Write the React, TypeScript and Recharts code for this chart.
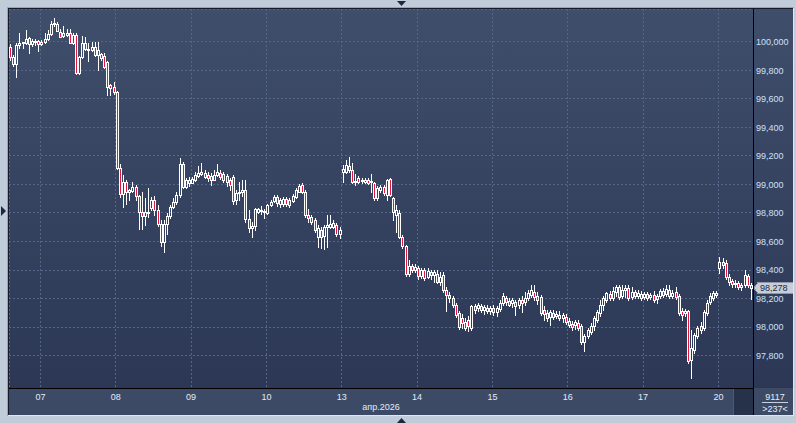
import React from 'react';
import { ComposedChart, Bar, XAxis, YAxis, CartesianGrid, ReferenceLine } from 'recharts';

const opens = [
  99961, 99891, 99842, 99977, 99989, 99991, 100024, 99986, 100005, 100003,
  99986, 99998, 100017, 100054, 100124, 100124, 100070, 100040, 100050, 100059,
  99993, 100047, 99781, 99891, 99989, 99947, 99942, 99961, 99907, 99914,
  99900, 99860, 99697, 99681, 99646, 99114, 98934, 99020, 98950, 98955,
  98981, 98920, 98810, 98780, 98810, 98836, 98892, 98822, 98724, 98598,
  98724, 98780, 98843, 98878, 98927, 99144, 98985, 99032, 99011, 99032,
  99060, 99074, 99081, 99067, 99060, 99032, 99067, 99081, 99074, 99060,
  99032, 99055, 98892, 98941, 98948, 98962, 98759, 98696, 98710, 98810,
  98822, 98815, 98801, 98857, 98887, 98915, 98864, 98864, 98899, 98892,
  98887, 98915, 98950, 98997, 98950, 98787, 98771, 98752, 98635, 98682,
  98640, 98705, 98705, 98705, 98717, 98654, 99088, 99088, 99130, 99102,
  99020, 99044, 99027, 99020, 99032, 99018, 99009, 98904, 98962, 98985,
  98927, 99037, 98904, 98787, 98801, 98635, 98570, 98374, 98430, 98402,
  98416, 98360, 98402, 98353, 98388, 98367, 98374, 98318, 98367, 98262,
  98227, 98206, 98157, 98101, 98066, 98038, 98052, 97994, 98145, 98136,
  98150, 98122, 98136, 98115, 98136, 98108, 98129, 98171, 98206, 98185,
  98171, 98178, 98157, 98192, 98178, 98206, 98227, 98248, 98220, 98213,
  98122, 98101, 98073, 98101, 98080, 98087, 98066, 98073, 98045, 98024,
  98017, 98031, 98010, 97898, 97940, 97968, 98010, 98052, 98101, 98157,
  98192, 98234, 98206, 98248, 98283, 98220, 98262, 98276, 98213, 98248,
  98220, 98234, 98213, 98234, 98213, 98227, 98199, 98220, 98255, 98234,
  98262, 98220, 98248, 98220, 98115, 98101, 98115, 97772, 97842, 97940,
  97982, 97996, 98101, 98178, 98206, 98227, 98416, 98458, 98451, 98353,
  98325, 98304, 98311, 98283, 98297, 98360, 98297,
];

const highs = [
  99984, 99907, 99991, 100059, 100000, 100082, 100033, 100019, 100019, 100012,
  100012, 100059, 100082, 100147, 100164, 100135, 100089, 100110, 100087, 100087,
  100061, 100061, 99900, 100040, 100035, 99989, 100000, 100000, 100000, 99921,
  99923, 99865, 99704, 99720, 99655, 99144, 99067, 99032, 98969, 99020,
  98997, 98927, 98950, 98904, 98974, 98913, 98920, 98857, 98752, 98752,
  98801, 98857, 98906, 98948, 99186, 99158, 99046, 99053, 99053, 99090,
  99132, 99153, 99102, 99088, 99081, 99102, 99144, 99102, 99088, 99074,
  99046, 99067, 98962, 99018, 99032, 99032, 98822, 98738, 98836, 98836,
  98850, 98829, 98864, 98892, 98927, 98927, 98906, 98913, 98913, 98906,
  98934, 98976, 99004, 99011, 98962, 98829, 98787, 98766, 98717, 98703,
  98717, 98787, 98787, 98752, 98731, 98703, 99137, 99172, 99195, 99149,
  99074, 99060, 99044, 99046, 99046, 99074, 99018, 98990, 98997, 98997,
  99039, 99046, 98913, 98857, 98822, 98647, 98577, 98472, 98444, 98444,
  98430, 98416, 98416, 98416, 98402, 98402, 98402, 98388, 98388, 98283,
  98248, 98220, 98171, 98115, 98094, 98066, 98080, 98157, 98164, 98171,
  98164, 98157, 98157, 98150, 98157, 98150, 98192, 98241, 98220, 98206,
  98206, 98192, 98206, 98220, 98248, 98262, 98297, 98297, 98248, 98227,
  98150, 98122, 98122, 98122, 98115, 98115, 98101, 98094, 98066, 98045,
  98052, 98052, 98024, 97954, 97996, 98031, 98080, 98122, 98192, 98220,
  98248, 98255, 98283, 98297, 98297, 98297, 98297, 98297, 98283, 98262,
  98262, 98255, 98248, 98248, 98241, 98255, 98234, 98269, 98276, 98297,
  98297, 98262, 98283, 98234, 98136, 98129, 98122, 97982, 97961, 98010,
  98038, 98122, 98192, 98241, 98255, 98255, 98493, 98486, 98472, 98374,
  98339, 98332, 98325, 98311, 98402, 98374, 98311,
];

const lows = [
  99872, 99830, 99755, 99956, 99954, 99984, 99919, 99970, 99977, 99937,
  99977, 99991, 100012, 100047, 100110, 100075, 100033, 100033, 100040, 99989,
  99984, 99774, 99774, 99886, 99942, 99867, 99935, 99900, 99802, 99872,
  99819, 99627, 99627, 99632, 99109, 98913, 98843, 98864, 98892, 98948,
  98892, 98687, 98687, 98717, 98775, 98822, 98787, 98710, 98570, 98526,
  98654, 98766, 98836, 98864, 98913, 98976, 98976, 98990, 99011, 99025,
  99053, 99067, 99046, 99025, 98997, 99032, 99060, 99039, 99018, 98990,
  98962, 98864, 98864, 98892, 98920, 98738, 98668, 98633, 98682, 98801,
  98794, 98766, 98794, 98850, 98878, 98850, 98843, 98850, 98850, 98843,
  98878, 98906, 98948, 98941, 98773, 98738, 98724, 98668, 98565, 98554,
  98549, 98561, 98696, 98696, 98640, 98626, 99020, 99081, 99088, 99011,
  98997, 99011, 99009, 99011, 99004, 98950, 98892, 98892, 98948, 98927,
  98892, 98920, 98752, 98670, 98626, 98556, 98360, 98360, 98388, 98388,
  98339, 98346, 98332, 98346, 98339, 98318, 98311, 98297, 98248, 98110,
  98178, 98143, 98073, 97989, 97996, 97982, 97970, 97982, 98101, 98115,
  98108, 98094, 98101, 98094, 98087, 98080, 98115, 98157, 98157, 98150,
  98143, 98087, 98136, 98108, 98157, 98192, 98213, 98192, 98164, 98087,
  98052, 98045, 98017, 98059, 98066, 98052, 98038, 98024, 98003, 97982,
  97989, 97982, 97884, 97830, 97926, 97954, 97982, 98038, 98080, 98122,
  98178, 98192, 98192, 98220, 98199, 98206, 98213, 98192, 98199, 98206,
  98206, 98192, 98199, 98192, 98199, 98178, 98171, 98206, 98213, 98220,
  98206, 98206, 98199, 98087, 98052, 98080, 97751, 97644, 97821, 97926,
  97961, 97982, 98087, 98164, 98192, 98213, 98381, 98416, 98339, 98297,
  98283, 98283, 98269, 98262, 98283, 98283, 98197,
];

const closes = [
  99891, 99842, 99977, 99989, 99995, 100017, 99984, 100007, 99998, 99986,
  100000, 100017, 100054, 100124, 100131, 100077, 100035, 100063, 100059, 99993,
  100047, 99783, 99891, 99989, 99947, 99945, 99961, 99907, 99942, 99884,
  99825, 99681, 99676, 99646, 99114, 98934, 99020, 98950, 98962, 98981,
  98920, 98810, 98780, 98810, 98808, 98892, 98822, 98724, 98598, 98724,
  98780, 98843, 98878, 98927, 99144, 98985, 99032, 99011, 99039, 99067,
  99081, 99090, 99053, 99046, 99032, 99067, 99088, 99053, 99032, 99018,
  98997, 98887, 98941, 98948, 98962, 98759, 98696, 98710, 98829, 98827,
  98815, 98808, 98857, 98880, 98915, 98869, 98892, 98899, 98864, 98857,
  98920, 98962, 98990, 98950, 98787, 98764, 98740, 98682, 98696, 98635,
  98705, 98717, 98724, 98733, 98654, 98682, 99107, 99137, 99102, 99020,
  99027, 99020, 99030, 99032, 99013, 99022, 98904, 98974, 98985, 98939,
  99032, 98927, 98810, 98822, 98635, 98570, 98374, 98430, 98402, 98423,
  98360, 98402, 98346, 98395, 98367, 98388, 98318, 98353, 98262, 98227,
  98206, 98157, 98087, 98003, 98031, 97996, 98010, 98145, 98122, 98157,
  98122, 98143, 98115, 98136, 98108, 98136, 98171, 98220, 98178, 98157,
  98192, 98150, 98192, 98171, 98206, 98241, 98262, 98213, 98192, 98101,
  98094, 98066, 98108, 98073, 98094, 98066, 98087, 98038, 98017, 98003,
  98038, 97996, 97898, 97940, 97982, 98010, 98066, 98108, 98157, 98206,
  98241, 98206, 98255, 98283, 98213, 98262, 98276, 98206, 98248, 98220,
  98241, 98206, 98234, 98206, 98227, 98192, 98220, 98255, 98227, 98269,
  98220, 98241, 98213, 98101, 98087, 98115, 97760, 97856, 97947, 97996,
  98010, 98108, 98171, 98220, 98241, 98241, 98458, 98437, 98353, 98318,
  98304, 98311, 98283, 98297, 98367, 98297, 98278,
];

const dayLabels = ['07', '08', '09', '10', '13', '14', '15', '16', '17', '20'];
const dayStarts = [10, 34, 58, 82, 106, 130, 154, 178, 202, 226];
const priceTicks = [97800, 98000, 98200, 98400, 98600, 98800, 99000, 99200, 99400, 99600, 99800, 100000];
const priceDomain = [97574, 100229];
const lastPrice = 98278;
const monthLabel = 'апр.2026';
const barsTotal = '9117';
const barsVisible = '>237<';

const data = opens.map((open, i) => ({
  idx: i,
  pos: i + 0.5,
  open,
  high: highs[i],
  low: lows[i],
  close: closes[i],
  range: [lows[i], highs[i]],
}));

const FONT = '"Liberation Sans", Arial, sans-serif';
const DOWN_FILL = '#e0173f';

function Candle(props: any) {
  const { x, y, width, height, payload } = props;
  if (x == null || y == null || !payload) return null;
  const top = Math.min(y, y + height);
  const h = Math.abs(height);
  const { open, close, high, low } = payload;
  const span = high - low;
  const py = (v: number) => (span === 0 ? top : top + ((high - v) / span) * h);
  const cx = x + width / 2;
  const left = Math.round(cx - 1.5);
  const wx = left + 1.5;
  const yHigh = Math.round(top);
  const yLow = Math.round(top + h);
  const bTop = Math.round(py(Math.max(open, close)));
  let bBot = Math.round(py(Math.min(open, close)));
  if (bBot < bTop + 1) bBot = bTop + 1;
  const down = close < open;
  return (
    <g>
      {bTop > yHigh && <line x1={wx} x2={wx} y1={yHigh} y2={bTop} stroke="#ffffff" strokeWidth={1} />}
      {yLow > bBot && <line x1={wx} x2={wx} y1={bBot} y2={yLow + 1} stroke="#ffffff" strokeWidth={1} />}
      <rect
        x={left + 0.5}
        y={bTop + 0.5}
        width={2}
        height={bBot - bTop}
        fill={down ? DOWN_FILL : 'none'}
        stroke="#ffffff"
        strokeWidth={1}
      />
    </g>
  );
}

function DayTick(props: any) {
  const { x, y, payload } = props;
  const k = dayStarts.indexOf(payload.value);
  return (
    <text x={x} y={y} dy={11.5} textAnchor="middle" fill="#e2eaf6" fontSize={9} fontFamily={FONT}>
      {dayLabels[k]}
    </text>
  );
}

function PriceTick(props: any) {
  const { x, y, payload } = props;
  return (
    <text x={x} y={y} dy={3.3} textAnchor="start" fill="#cfe0f6" fontSize={9} fontFamily={FONT}>
      {Number(payload.value).toLocaleString('en-US')}
    </text>
  );
}

function PriceTag(props: any) {
  const vb = props.viewBox || {};
  const xr = (vb.x || 0) + (vb.width || 0);
  const y = Math.round(vb.y || 0);
  const pts = `${xr + 1},${y} ${xr + 5},${y - 5.5} ${xr + 40},${y - 5.5} ${xr + 40},${y + 5.5} ${xr + 5},${y + 5.5}`;
  return (
    <g>
      <polygon points={pts} fill="#c7ced9" stroke="#8e98aa" strokeWidth={1} />
      <text x={xr + 7} y={y} dy={3.3} fill="#1f2940" fontSize={9} fontFamily={FONT}>
        {lastPrice.toLocaleString('en-US')}
      </text>
    </g>
  );
}

function MonthLabel(props: any) {
  const vb = props.viewBox || {};
  return (
    <text
      x={(vb.x || 0) + (vb.width || 0) / 2}
      y={(vb.y || 0) + 22}
      textAnchor="middle"
      fill="#e2eaf6"
      fontSize={9}
      fontFamily={FONT}
    >
      {monthLabel}
    </text>
  );
}

export default function App() {
  return (
    <div style={{ position: 'absolute', left: 0, top: 0, width: 796, height: 423, background: '#c1ccdb', overflow: 'hidden' }}>
      <div
        style={{
          position: 'absolute',
          left: 8,
          top: 8,
          width: 785,
          height: 407,
          background: 'linear-gradient(to bottom, #3f4e6b 0%, #2b3755 95%)',
        }}
      />
      <div style={{ position: 'absolute', left: 8, top: 388, width: 785, height: 27, background: '#3d4a65' }} />
      <div style={{ position: 'absolute', left: 733, top: 389, width: 20, height: 26, background: '#26314a', borderLeft: '1px solid #4d5a75', boxSizing: 'border-box' }} />
      <div style={{ position: 'absolute', left: 8, top: 8 }}>
        <ComposedChart
          width={785}
          height={407}
          data={data}
          margin={{ top: 1, right: 0, bottom: 0, left: 1 }}
          barCategoryGap={0}
          barGap={0}
          style={{ shapeRendering: 'crispEdges' }}
        >
          <CartesianGrid xAxisId="num" yAxisId="p" stroke="#56668a" strokeDasharray="2 2" />
          <XAxis xAxisId="cat" dataKey="idx" type="category" orientation="top" height={0} hide />
          <XAxis
            xAxisId="num"
            dataKey="pos"
            type="number"
            domain={[0, 237]}
            allowDataOverflow
            ticks={dayStarts}
            interval={0}
            height={27}
            tickSize={0}
            tickMargin={0}
            tickLine={false}
            axisLine={{ stroke: '#000000' }}
            tick={<DayTick />}
            label={<MonthLabel />}
          />
          <YAxis
            yAxisId="p"
            orientation="right"
            width={40}
            domain={priceDomain}
            allowDataOverflow
            ticks={priceTicks}
            interval={0}
            tickSize={0}
            tickMargin={3}
            tickLine={false}
            axisLine={{ stroke: '#000000' }}
            tick={<PriceTick />}
          />
          <Bar xAxisId="cat" yAxisId="p" dataKey="range" shape={<Candle />} isAnimationActive={false} />
          <ReferenceLine xAxisId="cat" yAxisId="p" y={lastPrice} stroke="transparent" label={<PriceTag />} />
        </ComposedChart>
      </div>
      <svg width={796} height={423} style={{ position: 'absolute', left: 0, top: 0, pointerEvents: 'none' }} shapeRendering="crispEdges">
        <line x1={7.5} y1={7} x2={7.5} y2={416} stroke="#97a4b8" />
        <line x1={7} y1={7.5} x2={794} y2={7.5} stroke="#97a4b8" />
        <line x1={8.5} y1={8} x2={8.5} y2={415} stroke="#151b28" />
        <line x1={8} y1={8.5} x2={793} y2={8.5} stroke="#151b28" />
        <line x1={8} y1={415.5} x2={794} y2={415.5} stroke="#e0e6ee" />
        <line x1={793.5} y1={8} x2={793.5} y2={416} stroke="#e0e6ee" />
        <line x1={753.5} y1={388} x2={753.5} y2={415} stroke="#000000" />
        <polygon points="397,1 406,1 401.5,6" fill="#1d2840" shapeRendering="auto" />
        <polygon points="397,423 406,423 401.5,418" fill="#1d2840" shapeRendering="auto" />
        <polygon points="1,206 1,216 6,211" fill="#1d2840" shapeRendering="auto" />
        <text x={775} y={399.5} textAnchor="middle" fill="#e6edf7" fontSize={9} fontFamily={FONT}>{barsTotal}</text>
        <line x1={762} y1={402.5} x2={788} y2={402.5} stroke="#c8d2e2" />
        <text x={775} y={411.5} textAnchor="middle" fill="#e6edf7" fontSize={9} fontFamily={FONT}>{barsVisible}</text>
      </svg>
    </div>
  );
}
